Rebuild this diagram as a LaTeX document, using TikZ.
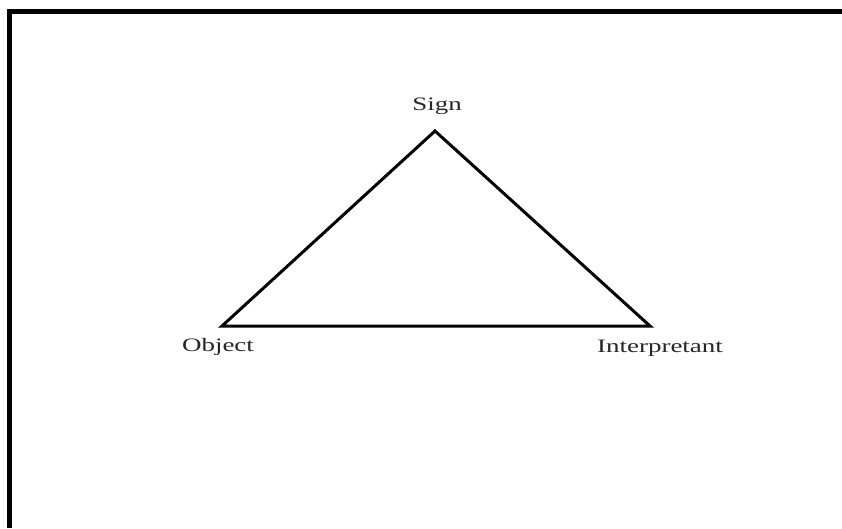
\documentclass[tikz,border=0pt]{standalone}
\usepackage{fontspec}
\setmainfont[FakeStretch=1.42]{Liberation Serif}
\usetikzlibrary{positioning}

\begin{document}
\begin{tikzpicture}[
  x=1pt, y=-1pt,
  frame/.style={line width=5pt, draw=black},
  edge/.style={line width=3pt, draw=black, line join=miter},
  label/.style={font=\fontsize{19}{22}\selectfont, text=black!85, inner sep=0pt, anchor=base}
]
\useasboundingbox (0,0) rectangle (842,528);
\draw[frame] (842,11) -- (9,11) -- (9,528);

% corners of the triad
\coordinate (sign) at (435,131);
\coordinate (object) at (222,326);
\coordinate (interpretant) at (650,326);

\node[label] (signlabel) at (437,110) {Sign};
\node[label] (objectlabel) at (218,351) {Object};
\node[label] (interpretantlabel) at (660,352) {Interpretant};

\draw[edge] (sign) -- (interpretant) -- (object) -- cycle;
\end{tikzpicture}
\end{document}
